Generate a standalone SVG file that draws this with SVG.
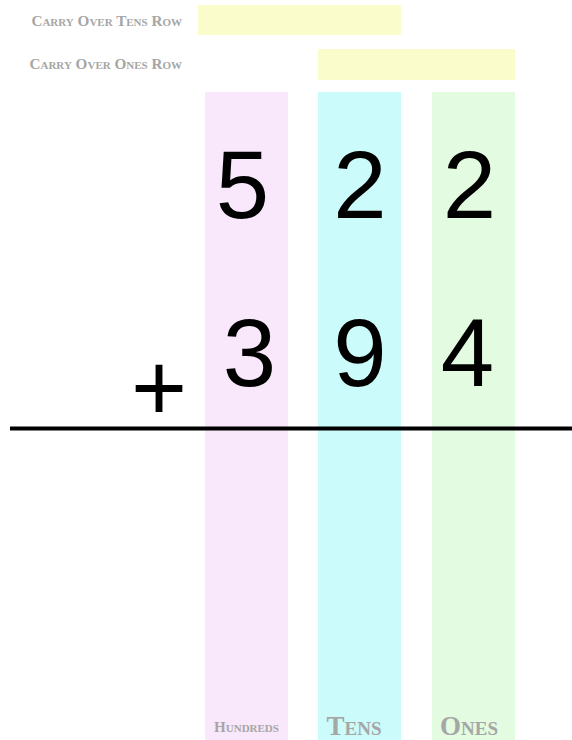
<svg xmlns="http://www.w3.org/2000/svg" width="572" height="740" viewBox="0 0 572 740">
<style>
.lbl{font-family:"Liberation Serif","Times New Roman",serif;font-weight:bold;font-variant:small-caps;fill:#a6a6a6}
.dig{font-family:"Liberation Sans",Arial,sans-serif;font-size:96px;fill:#000;text-anchor:middle}
.carry{fill:#fbfccc}
</style>
<rect width="572" height="740" fill="#fff"/>
<g id="carry-tens">
<rect class="carry" x="198" y="5" width="203" height="30"/>
<text class="lbl" x="182" y="26" font-size="15.2" text-anchor="end">Carry Over Tens Row</text>
</g>
<g id="carry-ones">
<rect class="carry" x="318" y="49" width="197" height="31"/>
<text class="lbl" x="182" y="69" font-size="15.2" text-anchor="end">Carry Over Ones Row</text>
</g>
<g id="hundreds">
<rect x="205" y="92" width="83" height="648" fill="#f9e7fb"/>
<text class="lbl" x="246.5" y="732" font-size="15" text-anchor="middle">Hundreds</text>
</g>
<g id="tens">
<rect x="318" y="92" width="83" height="648" fill="#ccfbfb"/>
<text class="lbl" x="354" y="735" font-size="27" text-anchor="middle">Tens</text>
</g>
<g id="ones">
<rect x="432" y="92" width="83" height="648" fill="#e3fbe0"/>
<text class="lbl" x="469" y="735" font-size="27" text-anchor="middle">Ones</text>
</g>
<g id="digits">
<text class="dig" x="242.5" y="218">5</text>
<text class="dig" x="360" y="218">2</text>
<text class="dig" x="469.5" y="218">2</text>
<text class="dig" x="249.5" y="386">3</text>
<text class="dig" x="360" y="386">9</text>
<text class="dig" x="467.5" y="386">4</text>
<text class="dig" x="159" y="421" font-size="88" font-family="'Liberation Serif',serif">+</text>
</g>
<g id="connectors">
<line x1="10" y1="428.5" x2="572" y2="428.5" stroke="#000" stroke-width="4"/>
</g>
</svg>
